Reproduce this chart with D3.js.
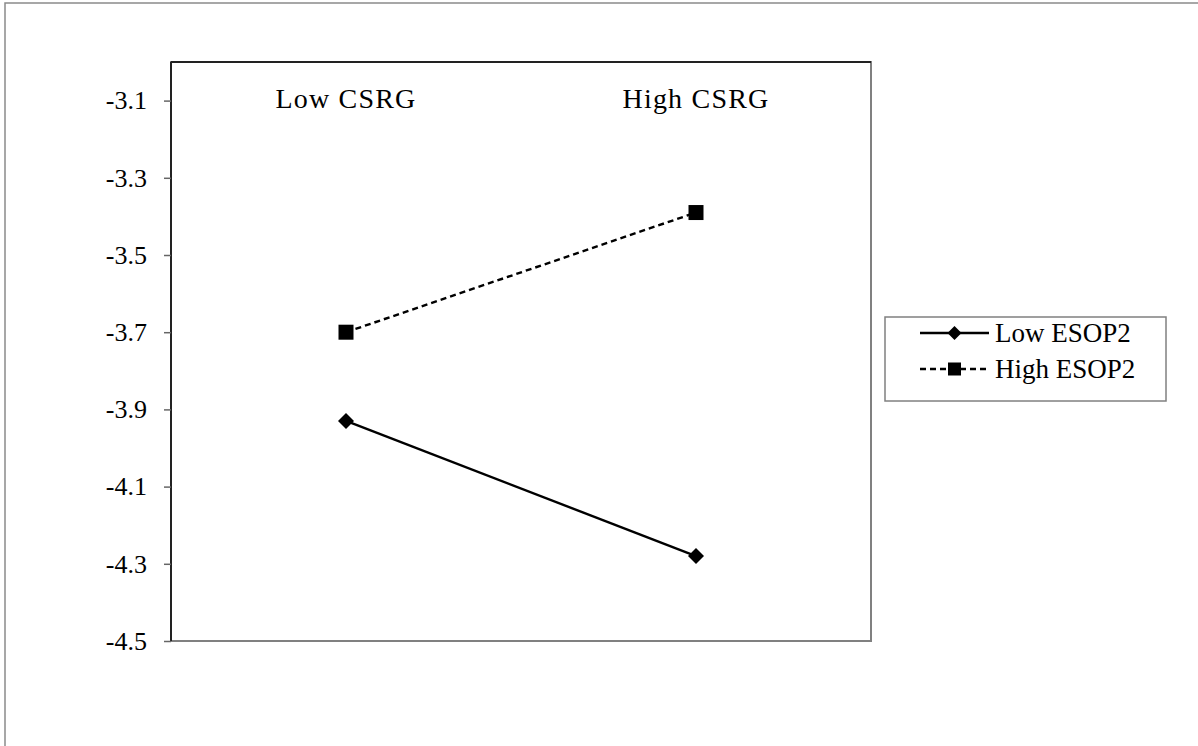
<!DOCTYPE html>
<html>
<head>
<meta charset="utf-8">
<script src="https://cdn.jsdelivr.net/npm/d3@7"></script>
<style>
	body { margin: 0; background: #fff; }
	svg { display: block; font-family: "Liberation Serif", "Times New Roman", serif; }
</style>
</head>
<body>
<div id="chart"></div>
<script>
"use strict";

// categories on the x axis
var categories = ["Low CSRG", "High CSRG"];
// series (moderator levels)
var seriesNames = ["Low ESOP2", "High ESOP2"];
var lowEsop = [-3.93, -4.28];
var highEsop = [-3.70, -3.39];
// y axis ticks
var yTicks = [-4.5, -4.3, -4.1, -3.9, -3.7, -3.5, -3.3, -3.1];

var W = 1198, H = 746;
var plot = { left: 171, right: 871, top: 62, bottom: 641 };

var svg = d3.select("#chart").append("svg")
	.attr("width", W)
	.attr("height", H);

// outer chart border (only top + left visible, picture is cropped)
svg.append("rect")
	.attr("x", 5).attr("y", 3)
	.attr("width", W + 20).attr("height", H + 20)
	.attr("fill", "none")
	.attr("stroke", "#8a8a8a")
	.attr("stroke-width", 1.5);

var x = d3.scalePoint()
	.domain(categories)
	.range([plot.left, plot.right])
	.padding(0.5);

var y = d3.scaleLinear()
	.domain([-4.5, -3.0])
	.range([plot.bottom, plot.top]);

// plot area frame
svg.append("rect")
	.attr("x", plot.left).attr("y", plot.top)
	.attr("width", plot.right - plot.left)
	.attr("height", plot.bottom - plot.top)
	.attr("fill", "none")
	.attr("stroke", "#808080")
	.attr("stroke-width", 2);
svg.append("line")
	.attr("x1", plot.left).attr("x2", plot.right)
	.attr("y1", plot.top).attr("y2", plot.top)
	.attr("stroke", "#222").attr("stroke-width", 2);

// y axis
var yAxis = d3.axisLeft(y)
	.tickValues(yTicks)
	.tickSize(7)
	.tickPadding(17)
	.tickFormat(function (d) { return d.toFixed(1); }); // plain hyphen, not the unicode minus

var gy = svg.append("g")
	.attr("transform", "translate(" + plot.left + ",0)")
	.call(yAxis);
gy.select(".domain")
	.attr("d", "M0," + plot.top + "V" + plot.bottom)
	.attr("stroke", "#222")
	.attr("stroke-width", 2);
gy.selectAll(".tick line").attr("stroke", "#666").attr("stroke-width", 1.5);
gy.selectAll(".tick text")
	.attr("fill", "#000")
	.style("font-family", "'Liberation Serif', 'Times New Roman', serif")
	.style("font-size", "26px");

// category labels inside the plot at the top
svg.selectAll(".cat")
	.data(categories)
	.enter().append("text")
	.attr("class", "cat")
	.attr("x", function (d) { return x(d); })
	.attr("y", 108)
	.attr("text-anchor", "middle")
	.style("font-size", "28px")
	.style("letter-spacing", "1.2px")
	.text(function (d) { return d; });

var series = [
	{ name: seriesNames[0], values: lowEsop, dash: null, marker: "diamond" },
	{ name: seriesNames[1], values: highEsop, dash: "6,4", marker: "square" }
];

var line = d3.line()
	.x(function (d, i) { return x(categories[i]); })
	.y(function (d) { return y(d); });

function drawMarker(g, type, cx, cy, s) {
	if (type === "diamond") {
		g.append("path")
			.attr("d", "M" + cx + "," + (cy - s) + "L" + (cx + s) + "," + cy +
				"L" + cx + "," + (cy + s) + "L" + (cx - s) + "," + cy + "Z")
			.attr("fill", "#000");
	} else {
		g.append("rect")
			.attr("x", cx - s).attr("y", cy - s)
			.attr("width", 2 * s).attr("height", 2 * s)
			.attr("fill", "#000");
	}
}

series.forEach(function (s) {
	var g = svg.append("g");
	g.append("path")
		.datum(s.values)
		.attr("d", line)
		.attr("fill", "none")
		.attr("stroke", "#000")
		.attr("stroke-width", 2.4)
		.attr("stroke-dasharray", s.dash);
	s.values.forEach(function (v, i) {
		drawMarker(g, s.marker, x(categories[i]), y(v), s.marker === "diamond" ? 8 : 7.5);
	});
});

// legend
var leg = { x: 885, y: 317, w: 281, h: 84 };
svg.append("rect")
	.attr("x", leg.x).attr("y", leg.y)
	.attr("width", leg.w).attr("height", leg.h)
	.attr("fill", "#fff")
	.attr("stroke", "#808080")
	.attr("stroke-width", 1.5);

series.forEach(function (s, i) {
	var cy = 333 + i * 36;
	var g = svg.append("g");
	g.append("line")
		.attr("x1", 920).attr("x2", 989)
		.attr("y1", cy).attr("y2", cy)
		.attr("stroke", "#000")
		.attr("stroke-width", 2.4)
		.attr("stroke-dasharray", s.dash);
	drawMarker(g, s.marker, 954.5, cy, s.marker === "diamond" ? 7 : 6.5);
	g.append("text")
		.attr("x", 995)
		.attr("y", cy)
		.attr("dy", "0.35em")
		.style("font-size", "27px")
		.text(s.name);
});
</script>
</body>
</html>
